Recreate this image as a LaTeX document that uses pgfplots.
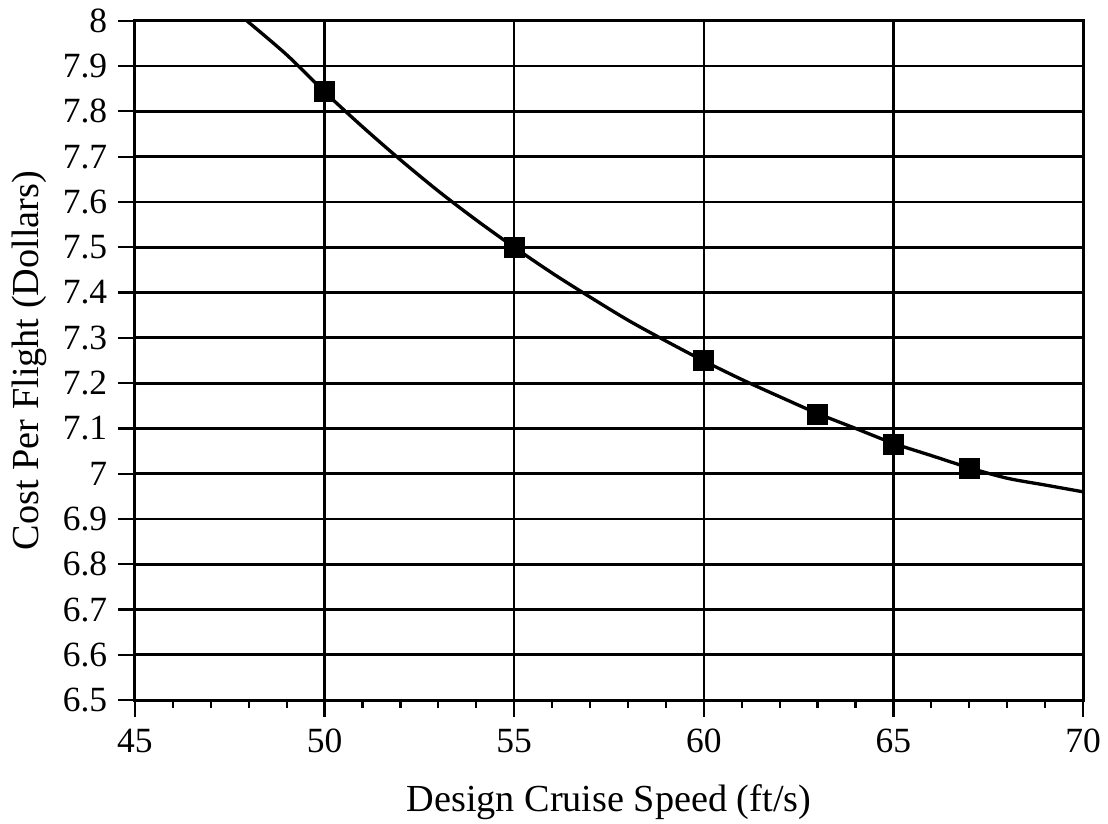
\documentclass[border=0pt]{standalone}
\usepackage{pgfplots}
\pgfplotsset{compat=1.18}
\usepackage{fontspec}
\setmainfont{Liberation Serif}

\begin{document}
\begin{tikzpicture}
\begin{axis}[
  scale only axis,
  width=342.2pt, height=245.2pt,
  xmin=45, xmax=70, ymin=6.5, ymax=8,
  xtick={45,50,55,60,65,70},
  minor x tick num=4,
  ytick={6.5,6.6,6.7,6.8,6.9,7,7.1,7.2,7.3,7.4,7.5,7.6,7.7,7.8,7.9,8},
  yticklabels={6.5,6.6,6.7,6.8,6.9,7,7.1,7.2,7.3,7.4,7.5,7.6,7.7,7.8,7.9,8},
  tick align=outside,
  major tick length=6pt,
  minor tick length=2.8pt,
  xtick pos=bottom, ytick pos=left,
  tick style={black, line width=0.8pt},
  grid=major,
  x grid style={black, line width=0.8pt},
  y grid style={black, line width=1pt},
  axis line style={black, line width=1.1pt},
  /pgf/number format/assume math mode=true,
  ticklabel style={font=\fontsize{12.8}{15}\selectfont},
  label style={font=\fontsize{13.8}{16}\selectfont},
  xticklabel style={yshift=-1pt},
  yticklabel style={xshift=-0.5pt},
  xlabel={Design Cruise Speed (ft/s)},
  ylabel={Cost Per Flight (Dollars)},
  xlabel style={yshift=-4.5pt},
  ylabel style={yshift=-1pt},
  clip=true,
]
% fitted cost curve
\addplot[black, line width=1.2pt, smooth] coordinates {
  (47.95,8.000) (49,7.925) (50,7.843) (51,7.766) (52,7.693) (53,7.624)
  (54,7.560) (55,7.500) (56,7.443) (57,7.390) (58,7.339) (59,7.293)
  (60,7.249) (61,7.208) (62,7.170) (63,7.133) (64,7.100) (65,7.067)
  (66,7.040) (67,7.013) (68,6.990) (69,6.975) (70,6.960)
};
% computed design points
\addplot[only marks, mark=square*, mark size=3.6pt, black] coordinates {
  (50,7.843) (55,7.500) (60,7.249) (63,7.130) (65,7.065) (67,7.012)
};
\end{axis}
\pgfresetboundingbox
\path ([shift={(-48.7pt,-44.4pt)}]current axis.south west)
      rectangle ([shift={(9pt,7.5pt)}]current axis.north east);
\end{tikzpicture}
\end{document}
